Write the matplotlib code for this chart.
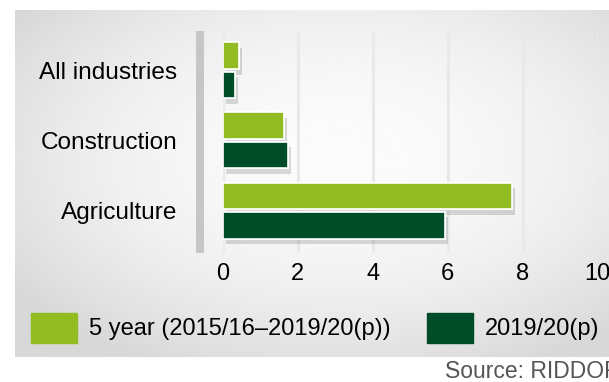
import numpy as np
import matplotlib
matplotlib.use('Agg')
from matplotlib import pyplot as plt
from matplotlib import patheffects as pe
from matplotlib.patches import Rectangle

plt.rcParams['font.family'] = ['Liberation Sans', 'DejaVu Sans']

# fatal injury rate per 100,000 workers
industries = ['All industries', 'Construction', 'Agriculture']
rate_5yr = [0.43, 1.64, 7.72]
rate_1920 = [0.33, 1.74, 5.94]
series_labels = ['5 year (2015/16\u20132019/20(p))', '2019/20(p)']
xticks = [0, 2, 4, 6, 8, 10]

light_green = '#93BB22'
dark_green = '#004C29'

W, H = 609, 382
fig = plt.figure(figsize=(W / 100, H / 100), dpi=100)

# grey panel with a soft radial highlight
bg = fig.add_axes([15 / W, 1 - 357 / H, (W - 15) / W, 347 / H])
yy, xx = np.mgrid[0:1:200j, 0:1:300j]
r2 = ((xx - 0.55) / 0.75) ** 2 + ((yy - 0.42) / 0.75) ** 2
shade = np.clip(0.985 - 0.17 * r2, 0.845, 0.985)
bg.imshow(shade, cmap='gray', vmin=0, vmax=1, aspect='auto',
          extent=[0, 1, 0, 1], interpolation='bicubic')
bg.set_axis_off()

ax = fig.add_axes([223 / W, 1 - 253 / H, 374.5 / W, 222 / H])
ax.set_facecolor('none')

y = np.arange(len(industries))
h = 0.38
off = 0.21
shadow = [pe.withSimplePatchShadow(offset=(2, -4), shadow_rgbFace='k', alpha=0.14), pe.Normal()]
b1 = ax.barh(y - off, rate_5yr, height=h, color=light_green, edgecolor='white',
             linewidth=1.2, zorder=3)
b2 = ax.barh(y + off, rate_1920, height=h, color=dark_green, edgecolor='white',
             linewidth=1.2, zorder=3)
for bar in list(b1) + list(b2):
    bar.set_path_effects(shadow)

ax.set_xlim(0, 10)
ax.set_ylim(2.607, -0.564)
ax.set_xticks(xticks)
ax.set_yticks(y)
ax.set_yticklabels(industries)
ax.tick_params(axis='y', length=0, pad=33, labelsize=17.6)
ax.tick_params(axis='x', length=0, pad=7, labelsize=17)
for s in ax.spines.values():
    s.set_visible(False)
ax.grid(axis='x', color='#e9e9e9', linewidth=2.2, zorder=0)
ax.set_axisbelow(True)

# thick grey bar standing in for the category axis
ax.plot([-0.0614, -0.0614], [0, 1], transform=ax.transAxes, clip_on=False,
        color='#c6c6c6', linewidth=5.8, solid_capstyle='butt')

# legend drawn by hand along the bottom of the panel
for x0, col, lab in [(31, light_green, series_labels[0]), (427, dark_green, series_labels[1])]:
    fig.patches.append(Rectangle((x0 / W, 1 - 343 / H), 46 / W, 30 / H,
                                 transform=fig.transFigure, color=col))
    fig.text((x0 + 58) / W, 1 - 329 / H, lab, fontsize=17, va='center', ha='left')

fig.text(445 / W, 1 - 372 / H, 'Source: RIDDOR', fontsize=16.5, color='#555555',
         va='center', ha='left')

fig.savefig('out.png', dpi=100)
